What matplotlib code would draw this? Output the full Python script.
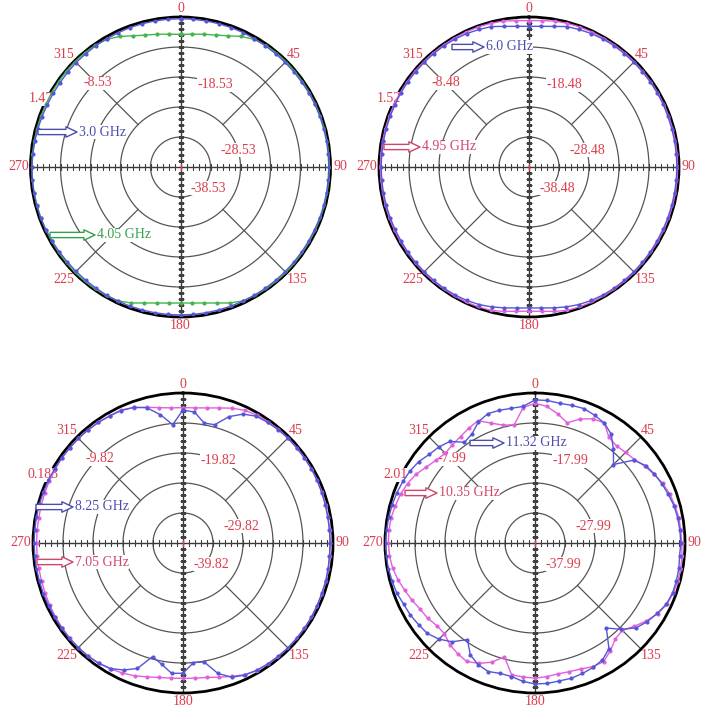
import numpy as np
import matplotlib
matplotlib.use('Agg')
import matplotlib.pyplot as plt
from matplotlib.patches import FancyArrowPatch

plt.rcParams['font.family'] = ['Liberation Serif', 'DejaVu Serif']

W, H = 704, 715
R = 150  # radius of each polar plot in pixels

# measured angles (deg, clockwise from top)
angles = np.arange(0, 360, 5)

# ---- panel 1 : 3.0 GHz / 4.05 GHz ----
p1_top = 1.47
p1_labels = ['1.47', '-8.53', '-18.53', '-28.53', '-38.53']
p1_3ghz = [0.9, 0.9, 0.9, 0.9, 0.9, 0.9, 0.8, 0.8, 0.8, 0.8,
           0.8, 0.8, 0.9, 0.9, 0.9, 0.9, 0.9, 0.9, 0.9, 0.9,
           0.9, 0.9, 0.9, 0.8, 0.8, 0.8, 0.8, 0.8, 0.8, 0.8,
           0.8, 0.8, 0.8, 0.8, 0.8, 0.8, 0.8, 0.8, 0.8, 0.8,
           0.8, 0.8, 0.8, 0.7, 0.7, 0.7, 0.7, 0.8, 0.9, 1.0,
           1.1, 1.1, 1.1, 1.1, 1.0, 0.9, 0.8, 0.7, 0.6, 0.5,
           0.5, 0.5, 0.6, 0.7, 0.7, 0.8, 0.8, 0.8, 0.9, 0.9,
           0.9, 0.9]
p1_405ghz = [-4.3, -4.1, -3.6, -3.0, -2.0, -0.5, 0.6, 1.0, 1.2, 1.2,
             1.2, 1.1, 1.1, 1.1, 1.1, 1.1, 1.1, 1.1, 1.1, 1.1,
             1.1, 1.1, 1.1, 1.1, 1.1, 1.1, 1.2, 1.2, 1.2, 1.1,
             1.0, 0.7, -0.3, -1.6, -2.5, -3.0, -3.2, -3.0, -2.5, -1.6,
             -0.3, 0.7, 1.0, 1.1, 1.2, 1.2, 1.1, 1.1, 1.0, 1.0,
             1.0, 1.0, 1.0, 1.0, 1.0, 1.0, 1.0, 1.0, 1.0, 1.0,
             1.1, 1.1, 1.2, 1.2, 1.2, 1.0, 0.6, -0.5, -2.0, -3.0,
             -3.6, -4.1]

# ---- panel 2 : 6.0 GHz / 4.95 GHz ----
p2_top = 1.52
p2_labels = ['1.52', '-8.48', '-18.48', '-28.48', '-38.48']
p2_60ghz = [-1.6, -1.4, -0.9, 0.0, 0.3, 0.6, 0.8, 0.9, 0.9, 0.9,
            0.9, 0.9, 0.9, 0.9, 0.8, 0.8, 0.8, 0.8, 0.8, 0.8,
            0.8, 0.8, 0.8, 0.8, 0.8, 0.9, 0.9, 0.9, 0.9, 0.9,
            0.8, 0.6, 0.3, -0.2, -0.8, -1.3, -1.5, -1.3, -0.8, -0.2,
            0.3, 0.6, 0.8, 0.9, 0.9, 0.9, 0.9, 0.9, 0.8, 0.8,
            0.8, 0.8, 0.8, 0.8, 0.8, 0.8, 0.8, 0.8, 0.8, 0.8,
            0.9, 0.9, 0.9, 0.9, 0.9, 0.9, 0.8, 0.6, 0.3, 0.0,
            -0.9, -1.4]
p2_495ghz = [0.3, 0.5, 0.9, 1.1, 1.2, 1.2, 1.2, 1.2, 1.2, 1.2,
             1.1, 1.1, 1.1, 1.1, 1.1, 1.1, 1.1, 1.1, 1.1, 1.1,
             1.1, 1.1, 1.1, 1.1, 1.1, 1.1, 1.1, 1.2, 1.2, 1.2,
             1.2, 1.2, 1.1, 1.0, 0.4, -0.2, -0.4, -0.2, 0.4, 1.0,
             1.1, 1.2, 1.2, 1.2, 1.2, 1.2, 1.1, 1.1, 1.1, 1.1,
             1.1, 1.1, 1.1, 1.1, 1.1, 1.1, 1.1, 1.1, 1.1, 1.1,
             1.1, 1.1, 1.2, 1.2, 1.2, 1.2, 1.2, 1.2, 1.2, 1.1,
             0.9, 0.5]

# ---- panel 3 : 8.25 GHz / 7.05 GHz ----
p3_top = 0.183
p3_labels = ['0.183', '-9.82', '-19.82', '-29.82', '-39.82']
p3_825ghz = [-5.5, -6.0, -9.2, -9.0, -5.0, -2.4, -1.0, -0.7, -0.5, -0.4,
             -0.4, -0.4, -0.4, -0.5, -0.6, -0.7, -0.8, -0.8, -0.8, -0.8,
             -0.7, -0.6, -0.6, -0.5, -0.4, -0.4, -0.4, -0.4, -0.5, -0.6,
             -0.8, -1.2, -2.2, -4.8, -9.6, -9.8, -6.4, -6.2, -8.8, -10.6,
             -5.3, -3.1, -1.5, -0.9, -0.6, -0.5, -0.4, -0.4, -0.4, -0.4,
             -0.3, -0.3, -0.2, -0.2, -0.2, -0.2, -0.2, -0.2, -0.3, -0.3,
             -0.4, -0.4, -0.5, -0.5, -0.6, -0.7, -0.9, -1.1, -1.7, -3.1,
             -6.4, -10.2]
p3_705ghz = [-4.7, -4.6, -4.1, -3.2, -2.0, -1.0, -0.6, -0.5, -0.3, -0.3,
             -0.3, -0.3, -0.3, -0.4, -0.5, -0.6, -0.7, -0.7, -0.7, -0.7,
             -0.6, -0.5, -0.5, -0.4, -0.3, -0.3, -0.3, -0.3, -0.4, -0.5,
             -0.7, -1.4, -2.5, -3.5, -4.3, -4.6, -4.7, -4.6, -4.3, -3.6,
             -2.7, -2.0, -1.4, -0.8, -0.6, -0.5, -0.5, -0.6, -0.7, -0.8,
             -0.9, -1.0, -1.0, -1.0, -1.0, -1.0, -1.0, -0.9, -0.8, -0.7,
             -0.6, -0.5, -0.5, -0.5, -0.6, -0.7, -0.9, -0.9, -1.8, -3.0,
             -4.0, -4.6]

# ---- panel 4 : 11.32 GHz / 10.35 GHz ----
p4_top = 2.01
p4_labels = ['2.01', '-7.99', '-17.99', '-27.99', '-37.99']
p4_1132ghz = [-0.3, -0.3, -0.7, -0.5, -0.3, -1.0, -1.8, -3.7, -7.3, -11.0,
              -5.0, -3.0, -2.0, -1.3, -0.7, 0.0, 0.3, 0.5, 0.6, 0.4,
              0.7, 0.8, 0.8, 0.3, -1.0, -2.3, -4.0, -7.3, -11.0, -5.0,
              -3.0, -2.2, -1.7, -1.3, -1.3, -1.0, -1.0, -1.7, -2.8, -3.0,
              -2.4, -3.2, -4.9, -8.7, -5.0, -2.7, -1.1, -0.6, 0.0, 0.3,
              1.0, 1.3, 1.6, 1.8, 1.9, 1.7, 1.5, 1.3, 1.0, 0.6,
              0.1, -0.7, -2.0, -2.7, -3.8, -7.0, -6.0, -3.4, -2.1, -2.2,
              -2.4, -2.3]
p4_1035ghz = [-1.4, -2.3, -4.3, -6.5, -4.0, -2.3, -1.8, -5.0, -5.7, -5.3,
              -4.7, -3.3, -2.2, -1.0, -0.2, 0.3, 0.7, 0.8, 0.9, 1.2,
              1.3, 1.3, 1.0, 0.5, -0.8, -2.7, -4.8, -6.8, -6.3, -4.2,
              -2.3, -2.5, -3.3, -3.6, -3.7, -3.3, -2.9, -3.2, -3.3, -8.7,
              -5.7, -3.7, -2.4, -3.0, -3.8, -5.3, -5.2, -4.3, -3.8, -2.8,
              -1.8, -0.7, 0.2, 0.7, 0.9, 0.9, 0.7, 0.2, -0.3, -1.1,
              -2.2, -3.8, -5.0, -5.7, -5.2, -4.7, -3.8, -3.0, -5.5, -7.3,
              -8.0, -2.7]

RED = '#dc3c4c'
BLUE = '#5555d8'
BLUE_TXT = '#4c4cae'
PINK = '#e060dc'
PINK_TXT = '#d0456a'
GREEN = '#44b44c'
GREEN_TXT = '#34a04a'

fig = plt.figure(figsize=(W / 100, H / 100), dpi=100)
fig.patch.set_facecolor('white')

# where the level labels sit, relative to the centre (pixels)
lab_off = [(-140, -68), (-83, -84), (35, -82), (58, -17), (28, 21)]


def draw_panel(cx, cy, top, labels, series, notes):
    ax = fig.add_axes([(cx - R) / W, 1 - (cy + R) / H, 2 * R / W, 2 * R / H],
                      projection='polar')
    ax.set_theta_zero_location('N')
    ax.set_theta_direction(-1)
    bot = top - 50
    ax.set_ylim(bot, top)
    ax.grid(False)
    ax.set_xticks([])
    ax.set_yticks([])
    ax.patch.set_alpha(0)
    ax.spines['polar'].set_color('black')
    ax.spines['polar'].set_linewidth(2.0)

    th = np.linspace(0, 2 * np.pi, 361)
    for k in range(1, 5):
        ax.plot(th, np.full_like(th, top - 10 * k), color='#555555', lw=0.9, zorder=1)
    for a in (45, 135, 225, 315):
        ax.plot([np.deg2rad(a)] * 2, [top - 30, top], color='#555555', lw=0.9, zorder=1)
    tick_r = bot + 2 * np.arange(1, 25)
    for a in (0, 90, 180, 270):
        ax.plot([np.deg2rad(a)] * 2, [bot, top], color='#383838', lw=1.0, zorder=1)
        mk = '_' if a in (0, 180) else '|'
        ax.plot(np.full_like(tick_r, np.deg2rad(a)), tick_r, ls='none', marker=mk,
                ms=4.5, mew=0.8, color='#404040', zorder=1)
    ax.plot([0], [bot], marker='|', ms=5, mew=1.0, color=RED, zorder=3)

    # angle labels
    pos = {0: ('center', 'bottom', 0.6), 45: ('left', 'bottom', 0.0),
           90: ('left', 'center', 1.0), 135: ('left', 'top', 0.0),
           180: ('center', 'top', 0.6), 225: ('right', 'top', 0.0),
           270: ('right', 'center', 0.6), 315: ('right', 'bottom', 0.0)}
    for a, (ha, va, off) in pos.items():
        ax.text(np.deg2rad(a), top + off, str(a), ha=ha, va=va, color=RED,
                fontsize=10, clip_on=False)

    # level labels
    for txt, (dx, dy) in zip(labels, lab_off):
        ax.text(0.5 + dx / (2 * R), 0.5 - dy / (2 * R), txt, transform=ax.transAxes,
                ha='center', va='center', color=RED, fontsize=10, zorder=4,
                bbox=dict(fc='white', ec='none', pad=0.3))

    # measured patterns
    t = np.deg2rad(np.append(angles, angles[0]))
    for vals, col in series:
        r = np.append(vals, vals[0])
        ax.plot(t, r, color=col, lw=1.0, marker='o', ms=2.0, zorder=5)

    # hollow arrows with frequency names
    for txt, col, x0, x1, y in notes:
        arr = FancyArrowPatch((x0 / W, 1 - y / H), (x1 / W, 1 - y / H),
                              transform=fig.transFigure,
                              arrowstyle='simple,head_length=8,head_width=7.5,tail_width=3.8',
                              mutation_scale=1, shrinkA=0, shrinkB=0,
                              fc='white', ec=col, lw=1.0, zorder=6)
        fig.add_artist(arr)
        fig.text((x1 + 2) / W, 1 - y / H, txt, color=col, fontsize=10,
                 ha='left', va='center', zorder=7,
                 bbox=dict(fc='white', ec='none', pad=0.2))


draw_panel(180.5, 167, p1_top, p1_labels,
           [(p1_405ghz, GREEN), (p1_3ghz, BLUE)],
           [('3.0 GHz', BLUE_TXT, 38, 77, 132), ('4.05 GHz', GREEN_TXT, 50, 95, 235)])
draw_panel(529, 167, p2_top, p2_labels,
           [(p2_495ghz, PINK), (p2_60ghz, BLUE)],
           [('6.0 GHz', BLUE_TXT, 452, 484, 47), ('4.95 GHz', PINK_TXT, 384, 420, 147)])
draw_panel(183, 543, p3_top, p3_labels,
           [(p3_705ghz, PINK), (p3_825ghz, BLUE)],
           [('8.25 GHz', BLUE_TXT, 36, 73, 507), ('7.05 GHz', PINK_TXT, 37, 73, 562)])
draw_panel(535, 543, p4_top, p4_labels,
           [(p4_1035ghz, PINK), (p4_1132ghz, BLUE)],
           [('11.32 GHz', BLUE_TXT, 470, 504, 443), ('10.35 GHz', PINK_TXT, 405, 437, 493)])

fig.savefig('out.png', dpi=100, facecolor='white')
